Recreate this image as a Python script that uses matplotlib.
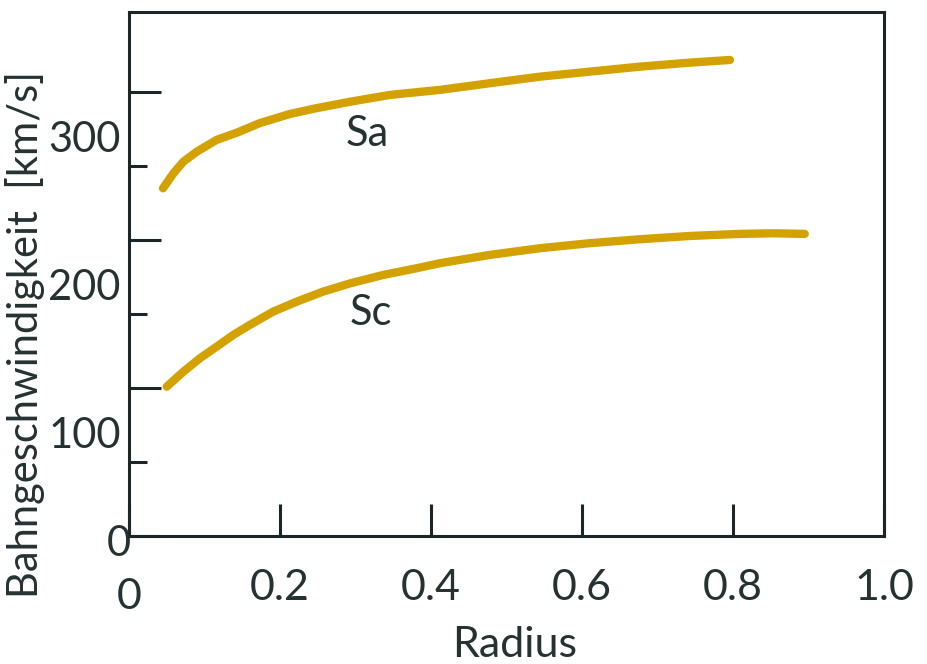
import matplotlib
matplotlib.use("Agg")
import matplotlib.pyplot as plt
import matplotlib.transforms as mtransforms

# Data
sa_radius = [0.045, 0.059, 0.072, 0.090, 0.116, 0.143, 0.173, 0.213, 0.248, 0.293,
             0.346, 0.412, 0.478, 0.544, 0.610, 0.677, 0.743, 0.796]
sa_speed = [234.9, 245.1, 252.9, 259.7, 267.6, 272.5, 278.9, 285.1, 289.0, 293.4,
            298.0, 301.4, 305.9, 310.3, 313.7, 317.1, 319.8, 321.6]
sc_radius = [0.050, 0.072, 0.094, 0.116, 0.138, 0.160, 0.191, 0.222, 0.257, 0.293,
             0.337, 0.381, 0.412, 0.478, 0.544, 0.610, 0.677, 0.743, 0.809, 0.853, 0.895]
sc_speed = [100.9, 111.0, 120.1, 127.9, 135.8, 142.6, 151.6, 158.3, 165.1, 170.7,
            176.4, 180.9, 184.3, 189.9, 194.4, 197.8, 200.5, 202.7, 204.1, 204.5, 204.1]
x_ticks = [0, 0.2, 0.4, 0.6, 0.8, 1.0]
x_ticklabels = ["0", "0.2", "0.4", "0.6", "0.8", "1.0"]
y_ticks = [0, 100, 200, 300]
y_ticklabels = ["0", "100", "200", "300"]
y_minor = [50, 150, 250]

plt.rcParams['font.family'] = ['Lato', 'DejaVu Sans']
text_col = '#263232'
axis_col = '#1c2626'
curve_col = '#D4A200'
FS = 31

fig = plt.figure(figsize=(9.27, 6.64), dpi=100)
ax = fig.add_axes([129/927, 1-536/664, (884-129)/927, (536-12)/664])

ax.plot(sa_radius, sa_speed, color=curve_col, lw=6.0, solid_capstyle='round',
        solid_joinstyle='round')
ax.plot(sc_radius, sc_speed, color=curve_col, lw=6.0, solid_capstyle='round',
        solid_joinstyle='round')

ax.text(0.315, 271.6, "Sa", fontsize=30, color=text_col, ha='center', va='center')
ax.text(0.3205, 150.7, "Sc", fontsize=30, color=text_col, ha='center', va='center')

ax.set_xlim(0, 1.0)
ax.set_ylim(0, 354)

for s in ax.spines.values():
    s.set_linewidth(2.2)
    s.set_color(axis_col)

ax.set_xticks(x_ticks)
ax.set_xticklabels(x_ticklabels)
ax.set_yticks(y_ticks)
ax.set_yticklabels(y_ticklabels)
ax.set_yticks(y_minor, minor=True)
ax.tick_params(axis='both', which='major', direction='in', length=23, width=2.2,
               color=axis_col, labelsize=FS, labelcolor=text_col)
ax.tick_params(axis='y', which='major', labelsize=30)
ax.tick_params(axis='x', which='major', pad=24)
ax.tick_params(axis='y', which='major', pad=6)
ax.tick_params(axis='y', which='minor', direction='in', length=13, width=2.2, color=axis_col)

# labels in the reference sit below their tick marks
for val, lab in zip(y_ticks, ax.get_yticklabels()):
    if val == 0:
        dx, dy = 7/72, -3/72
    else:
        dx, dy = 0, -32/72
    lab.set_transform(lab.get_transform() + mtransforms.ScaledTranslation(dx, dy, fig.dpi_scale_trans))
for val, lab in zip(x_ticks, ax.get_xticklabels()):
    dy = -6/72 if val == 0 else 0
    lab.set_transform(lab.get_transform() + mtransforms.ScaledTranslation(0, dy, fig.dpi_scale_trans))

ax.text(0.511, -0.231, "Radius", fontsize=FS, color=text_col, ha='center', va='baseline',
        transform=ax.transAxes)
ax.text(-0.1205, 0.3836, "Bahngeschwindigkeit  [km/s]", fontsize=30, color=text_col,
        ha='center', va='baseline', rotation=90, rotation_mode='anchor',
        transform=ax.transAxes)

fig.savefig("out.png", dpi=100)
